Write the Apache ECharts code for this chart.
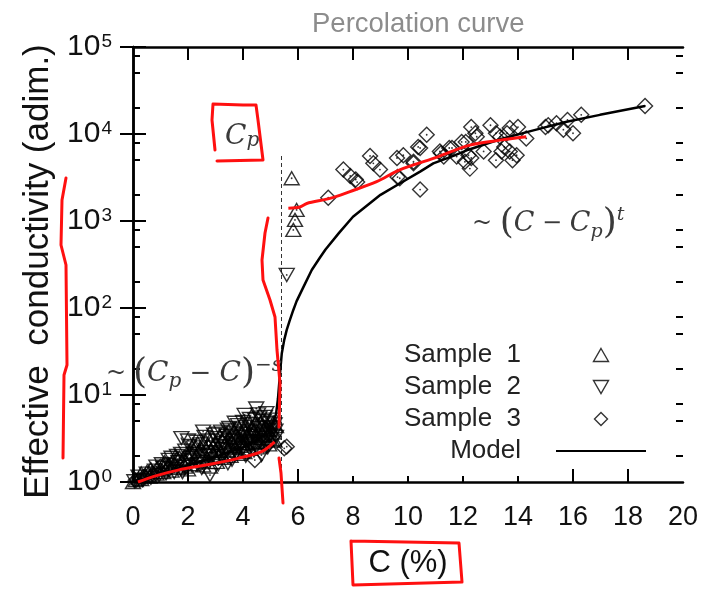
<!DOCTYPE html>
<html><head><meta charset="utf-8">
<script src="https://cdn.jsdelivr.net/npm/echarts@6/dist/echarts.min.js"></script>
<style>html,body{margin:0;padding:0;background:#fff}#c{width:708px;height:589px}</style>
</head><body><div id="c"></div>
<script>
// ---------- data (C in %, conductivity adim.) ----------
const sample1 = [[0.0,1.0],[0.1,1.05],[0.2,1.1],[0.3,1.08],[0.45,1.2],[0.6,1.15],[0.7,1.3],[0.85,1.25],[1.0,1.4],[1.1,1.3],[1.25,1.5],[1.4,1.35],[1.5,1.6],[1.65,1.45],[1.8,1.7],[1.9,1.5],[2.05,1.8],[2.2,1.6],[2.3,1.95],[2.45,1.75],[2.6,2.1],[2.7,1.85],[2.85,2.3],[2.95,2.0],[3.1,2.5],[3.2,2.15],[3.35,2.7],[3.45,2.3],[3.6,2.9],[3.7,2.45],[3.8,3.2],[3.9,2.6],[4.0,3.4],[4.1,2.8],[4.2,3.7],[4.3,3.0],[4.4,3.9],[4.5,3.2],[4.6,4.1],[4.7,3.4],[4.8,4.3],[4.9,3.5],[5.0,4.0],[5.1,3.7],[5.2,4.4],
 [2.5,2.4],[2.75,2.6],[3.0,2.8],[3.25,3.0],[3.5,3.3],[3.75,3.5],[3.95,3.0],[4.15,3.3],[4.35,3.5],[4.55,3.7],[4.75,3.9],[4.95,3.2],[5.15,3.0],[3.0,2.3],[3.5,2.6],[4.0,2.7],[4.45,2.9],[1.3,1.6],[1.7,1.9],[2.1,2.2],[2.4,2.3],[0.5,1.3],[0.9,1.45],[2.8,1.5],[3.3,1.9],[3.85,2.1],[4.25,2.4],[4.65,2.8],[5.05,3.1],
 [1.55,2.0],[1.95,2.1],[2.15,2.5],[2.35,2.8],[2.65,2.9],[2.9,3.1],[3.15,3.4],[3.4,3.6],[3.65,3.8],[3.9,3.7],[4.05,4.0],[4.3,4.2],[4.5,4.5],[4.7,4.6],[4.9,4.0],[5.1,4.8],[0.3,1.25],[0.65,1.4],[1.15,1.7],[2.0,1.4],[2.55,1.55],[3.05,1.7],[3.55,2.0],[4.05,2.2],[4.5,2.5],[4.95,2.7],
 [5.77,3100],[5.95,1340],[5.89,1030],[5.83,790]];
const sample2 = [[0.05,1.02],[0.2,1.15],[0.35,1.05],[0.5,1.25],[0.65,1.12],[0.8,1.35],[0.95,1.2],[1.1,1.45],[1.2,1.25],[1.35,1.55],[1.5,1.3],[1.65,1.7],[1.76,3.2],[1.85,1.5],[2.0,3.0],[2.1,1.9],[2.24,2.1],[2.35,1.6],[2.55,3.8],[2.65,2.2],[2.8,1.2],[2.9,2.5],[3.09,3.6],[3.2,2.0],[3.3,2.8],[3.45,4.0],[3.45,1.64],[3.6,3.0],[3.7,2.3],[3.82,4.5],[3.95,3.3],[4.06,5.9],[4.18,4.7],[4.25,2.7],[4.35,3.8],[4.48,7.0],[4.55,4.2],[4.67,2.04],[4.75,5.0],[4.85,6.2],[4.97,4.3],[5.05,5.2],[5.15,4.6],[5.2,3.3],
 [2.45,2.7],[2.75,3.0],[3.0,3.2],[3.15,2.6],[3.4,3.4],[3.55,3.7],[3.75,3.9],[3.9,4.1],[4.1,4.3],[4.3,4.6],[4.45,5.2],[4.6,5.5],[4.9,4.8],[5.1,4.2],[4.0,3.6],[4.4,3.4],[4.7,3.6],[3.65,2.7],[3.25,2.4],[2.85,2.0],[1.4,1.9],[1.6,2.0],[1.9,2.3],[2.2,2.5],[4.8,2.9],[5.0,3.5],[4.2,2.9],[3.85,2.5],
 [1.05,1.6],[1.3,1.8],[1.75,2.1],[2.05,2.6],[2.3,2.9],[2.6,3.3],[2.95,3.5],[3.2,3.8],[3.5,4.2],[3.7,4.8],[4.0,4.9],[4.25,5.3],[4.55,6.0],[4.8,5.6],[5.0,4.0],[5.18,3.9],[0.85,1.5],[1.8,1.3],[2.5,1.45],[3.1,1.6],[3.6,1.8],[4.1,2.0],[4.4,2.3],[4.9,2.5],
 [5.59,240]];
const sample3 = [[0.1,1.05],[0.4,1.15],[0.75,1.2],[1.0,1.5],[1.3,1.4],[1.6,1.8],[1.95,1.55],[2.2,2.0],[2.5,1.7],[2.8,2.2],[3.1,1.9],[3.4,2.4],[3.7,2.1],[3.95,2.9],[4.2,2.3],[4.43,1.79],[4.6,3.0],[4.85,2.6],[5.1,3.4],[5.5,2.44],[5.59,2.55],
 [7.1,1850],[7.65,3900],[7.9,3300],[8.1,3000],[8.15,2800],[8.62,5600],[8.74,4600],[8.98,3900],[9.6,5300],[9.62,3200],[9.7,3100],[9.83,5700],[10.2,4600],[10.2,4800],[10.37,7100],[10.44,6900],[10.44,2300],[10.68,9800],[11.16,6300],[11.2,6000],[11.3,5500],[11.5,6900],[11.6,6900],[11.77,5500],[11.95,8100],[12.07,4800],[12.1,8100],[12.2,5700],[12.25,4000],[12.3,5300],[12.3,12000],[12.45,10200],[12.5,9300],[12.75,6300],[13.0,12600],[13.2,10200],[13.2,5000],[13.35,9300],[13.4,6300],[13.5,7100],[13.6,10200],[13.7,11700],[13.7,6300],[13.8,5000],[13.95,5700],[14.0,12000],[14.3,8900],[15.0,12000],[15.1,12600],[15.4,13300],[15.65,11200],[15.8,14500],[16.0,10200],[16.3,16600],[18.62,21000]];
const model = [[0,1.0],[1,1.25],[2,1.55],[3,1.95],[4,2.5],[4.5,3.0],[4.8,3.6],[5.0,4.3],[5.1,5.0],[5.2,6.0],[5.27,9],[5.32,14],[5.36,20],[5.41,30],[5.5,43],[5.59,56],[5.7,72],[5.83,95],[5.95,120],[6.2,175],[6.5,273],[6.8,380],[7.0,470],[7.5,735],[8.0,1120],[9.0,2000],[9.7,2700],[10.44,3700],[10.92,4600],[11.65,5600],[12.2,6600],[13.35,8700],[14.56,11000],[15.77,13800],[16.98,16600],[18.62,21000]];
const redLow = [[0.18,1.0],[0.79,1.17],[1.64,1.37],[2.85,1.61],[3.82,1.87],[4.67,2.23],[5.15,2.9]];
const redHigh = [[5.65,1400],[6.07,1450],[6.32,1590],[7.16,1820],[7.89,2180],[8.86,2830],[9.7,3870],[10.92,5250],[12.25,7450],[13.35,8500],[14.3,9300]];
const cpLine = [[5.4,1],[5.4,6000]];
const xLabelTicks = [0,2,4,6,8,10,12,14,16,18,20];
const xTicksLong = [2,4,6,16,18];
const xTicksShort = [8,10,12,14];
const xTicksTop = [2,4,6,8,10,12,14,16,18];
const yMajor = [1,10,100,1000,10000,100000];
const yMinor = [2,5,8,20,50,80,200,500,800,2000,5000,8000,20000,50000,80000];
const legendNames = ['Sample  1','Sample  2','Sample  3','Model'];

// ---------- chart ----------
const FONT = '"Liberation Sans", Arial, sans-serif';
const MATH = '"DejaVu Serif", serif';
const chart = echarts.init(document.getElementById('c'), null, {renderer:'canvas'});
const G = {left:133, top:47, width:550, height:435};
const blackLine = {show:true, lineStyle:{color:'#000', width:2.5}};
function yAx(pos, ticks, len, line, labels){
  return {type:'log', logBase:10, min:1, max:100000, position:pos, gridIndex:0,
    axisLine: line ? blackLine : {show:false},
    axisTick:{show:true, inside:true, length:len, customValues:ticks, lineStyle:{color:'#000', width:2}},
    axisLabel: labels ? {show:true, customValues:yMajor, margin:21, color:'#111', fontFamily:FONT,
        formatter: v => '{a|10}{b|' + Math.round(Math.log10(v)) + '}',
        rich:{a:{fontSize:30, fontFamily:FONT, color:'#111'}, b:{fontSize:19, fontFamily:FONT, color:'#111', verticalAlign:'top', padding:[0,0,8,1]}}} : {show:false},
    splitLine:{show:false}, minorTick:{show:false},
    name: labels ? 'Effective  conductivity (adim.)' : '', nameLocation:'middle', nameGap:76,
    nameTextStyle:{fontSize:35, fontFamily:FONT, color:'#111', padding:[0,14,0,0]}};
}
function xAx(pos, ticks, len, line, labels){
  return {type:'value', min:0, max:20, interval:2, position:pos,
    axisLine: line ? blackLine : {show:false},
    axisTick:{show:true, inside:true, length:len, customValues:ticks, lineStyle:{color:'#000', width:2}},
    axisLabel: labels ? {show:true, customValues:xLabelTicks, margin:22, fontSize:27, fontFamily:FONT, color:'#111'} : {show:false},
    splitLine:{show:false},
    name: labels ? 'C (%)' : '', nameLocation:'middle', nameGap:66,
    nameTextStyle:{fontSize:31, fontFamily:FONT, color:'#111'}};
}
const hollow = {color:'rgba(0,0,0,0)', borderColor:'#000', borderWidth:1.4};
const dot = {color:'#000'};
const red = '#ff1010';
function redPoly(pts){
  return {type:'polyline', silent:true, z:100, shape:{points:pts}, style:{stroke:red, lineWidth:3, fill:null, lineJoin:'round', lineCap:'round'}};
}
const option = {
  animation:false,
  backgroundColor:'#fff',
  title:{text:'Percolation curve', left:307, top:5, textStyle:{fontSize:27.5, fontWeight:'normal', fontFamily:FONT, color:'#8c8c8c'}},
  grid:G,
  xAxis:[xAx('bottom', xTicksLong, 13, true, true), xAx('bottom', xTicksShort, 6, false, false), xAx('top', xTicksTop, 13, true, false)],
  yAxis:[yAx('left', yMajor, 13, true, true), yAx('left', yMinor, 7, false, false), yAx('right', yMajor, 13, true, false), yAx('right', yMinor, 7, false, false)],
  legend:{orient:'vertical', align:'right', right:61, top:342, padding:0, itemGap:6, itemWidth:90, itemHeight:13, selectedMode:false,
    textStyle:{fontSize:26, fontFamily:FONT, color:'#222', width:120, lineHeight:26, padding:[0,30,0,0]},
    data:[
      {name:legendNames[0], icon:'path://M7.5,0L15,13L0,13Z', itemStyle:hollow},
      {name:legendNames[1], icon:'path://M0,0L15,0L7.5,13Z', itemStyle:hollow},
      {name:legendNames[2], icon:'path://M7,0L14,7L7,14L0,7Z', itemStyle:hollow},
      {name:legendNames[3], itemStyle:{color:'rgba(0,0,0,0)', borderWidth:0, opacity:0}}
    ]},
  series:[
    {name:legendNames[0], type:'scatter', data:sample1, symbol:'triangle', symbolSize:[15,13], itemStyle:hollow, z:3},
    {name:legendNames[1], type:'scatter', data:sample2, symbol:'triangle', symbolRotate:180, symbolSize:[15,13], itemStyle:hollow, z:3},
    {name:legendNames[2], type:'scatter', data:sample3, symbol:'diamond', symbolSize:15, itemStyle:hollow, z:3},
    {name:'dots1', type:'scatter', data:sample1, symbol:'circle', symbolSize:1.8, itemStyle:dot, z:3, silent:true},
    {name:'dots2', type:'scatter', data:sample2, symbol:'circle', symbolSize:1.8, itemStyle:dot, z:3, silent:true},
    {name:'dots3', type:'scatter', data:sample3, symbol:'circle', symbolSize:1.8, itemStyle:dot, z:3, silent:true},
    {name:legendNames[3], type:'line', data:model, showSymbol:false, symbol:'none', lineStyle:{color:'#000', width:2.5}, itemStyle:{color:'#000'}, z:4},
    {name:'cp', type:'line', data:cpLine, symbol:'none', lineStyle:{color:'#333', width:1, type:[4,3]}, z:2},
    {name:'redLow', type:'line', data:redLow, symbol:'none', smooth:0.3, lineStyle:{color:red, width:3}, z:10},
    {name:'redHigh', type:'line', data:redHigh, symbol:'none', smooth:0.3, lineStyle:{color:red, width:3}, z:10}
  ],
  graphic:[
    {type:'text', x:225, y:137, z:50, style:{text:'{c|C}{s|p}', verticalAlign:'middle', rich:{c:{fontFamily:MATH, fontStyle:'italic', fontSize:28, fill:'#3a3a3a'}, s:{fontFamily:MATH, fontStyle:'italic', fontSize:20, fill:'#3a3a3a', verticalAlign:'bottom', padding:[8,0,0,0]}}}},
    {type:'text', x:472, y:224, z:50, style:{text:'{t|~ }{q|(}{c|C}{t| − }{c|C}{s|p}{q|)}{u|t}', verticalAlign:'middle',
      rich:{t:{fontFamily:MATH, fontSize:24, fill:'#3a3a3a'}, q:{fontFamily:MATH, fontSize:36, fill:'#3a3a3a'}, c:{fontFamily:MATH, fontStyle:'italic', fontSize:27, fill:'#3a3a3a'}, s:{fontFamily:MATH, fontStyle:'italic', fontSize:19, fill:'#3a3a3a', verticalAlign:'bottom'}, u:{fontFamily:MATH, fontStyle:'italic', fontSize:19, fill:'#3a3a3a', verticalAlign:'top'}}}},
    {type:'text', x:106, y:374, z:50, style:{text:'~', fontFamily:MATH, fontSize:24, fill:'#3a3a3a', verticalAlign:'middle'}},
    {type:'text', x:133, y:374, z:50, style:{text:'{q|(}{c|C}{s|p}{t| − }{c|C}{q|)}{u|−s}', verticalAlign:'middle',
      rich:{t:{fontFamily:MATH, fontSize:26, fill:'#3a3a3a'}, q:{fontFamily:MATH, fontSize:36, fill:'#3a3a3a'}, c:{fontFamily:MATH, fontStyle:'italic', fontSize:28, fill:'#3a3a3a'}, s:{fontFamily:MATH, fontStyle:'italic', fontSize:20, fill:'#3a3a3a', verticalAlign:'bottom'}, u:{fontFamily:MATH, fontStyle:'italic', fontSize:20, fill:'#3a3a3a', verticalAlign:'top'}}}},
    redPoly([[215,150],[212,120],[213,104],[243,105],[256,105],[258,120],[263,160],[217,161]]),
    redPoly([[66,178],[62,200],[61,245],[66,265],[67,365],[64,375],[63,458]]),
    redPoly([[268,218],[265,233],[262,260],[263,280],[270,300],[275,317],[277,350],[280,383],[279,427]]),
    redPoly([[279,458],[281,473],[283,503]]),
    redPoly([[351,541],[459,543],[462,582],[353,585],[351,541]])
  ]
};
chart.setOption(option);
</script>
</body></html>
